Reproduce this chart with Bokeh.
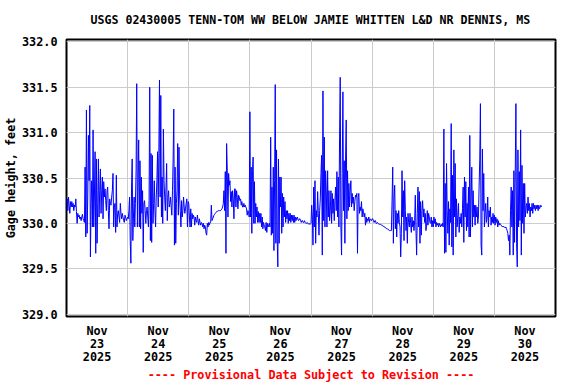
import numpy as np
import pandas as pd
from bokeh.plotting import figure
from bokeh.models import Range1d, FixedTicker, DatetimeTickFormatter, PrintfTickFormatter
from bokeh.embed import file_html
from bokeh.resources import INLINE

title_text = "USGS 02430005 TENN-TOM WW BELOW JAMIE WHITTEN L&D NR DENNIS, MS"
y_label = "Gage height, feet"
footer = "---- Provisional Data Subject to Revision ----"

day_starts = ["2025-11-23", "2025-11-24", "2025-11-25", "2025-11-26",
              "2025-11-27", "2025-11-28", "2025-11-29", "2025-11-30"]
range_end = "2025-12-01"
last_reading = "2025-11-30 18:30"
y_ticks = [329.0, 329.5, 330.0, 330.5, 331.0, 331.5, 332.0]

# gage height readings (feet), one list per day
nov23 = [330.22, 330.27, 330.14, 330.29, 330.20, 330.11, 330.24, 330.18, 330.24, 330.18,
         330.22, 330.14, 330.20, 330.18, 330.27, 330.13, 330.00, 330.11, 330.07, 330.09,
         330.05, 330.07, 330.03, 330.07, 330.10, 330.05, 330.03, 330.01, 330.62, 329.85,
         331.25, 329.89, 330.29, 330.97, 330.47, 331.30, 329.63, 330.22, 330.47, 329.96,
         331.03, 329.96, 330.29, 330.79, 329.67, 330.71, 329.78, 330.22, 330.71, 330.07,
         330.36, 330.60, 330.11, 330.36, 330.51, 330.05, 330.46, 330.29, 330.38, 330.25,
         330.14, 330.36, 330.40, 330.14, 329.94, 330.27, 330.22, 330.20, 330.29, 330.36,
         330.55, 329.96, 330.18, 330.22, 329.90, 330.53, 329.96, 330.11, 330.14, 330.07,
         330.01, 330.22, 330.11, 330.05, 330.11, 330.07, 330.03, 330.01, 330.09, 330.07,
         330.03, 330.05]
nov24 = [330.07, 330.05, 330.14, 330.29, 329.81, 329.56, 330.38, 330.71, 329.81, 330.07,
         330.29, 329.96, 330.22, 330.58, 331.54, 329.96, 330.47, 330.92, 329.96, 330.69,
         329.94, 330.51, 330.11, 330.36, 329.68, 330.22, 330.25, 330.14, 330.00, 330.14,
         330.18, 330.07, 329.96, 330.25, 331.50, 329.81, 330.77, 329.79, 330.75, 330.00,
         330.22, 330.47, 330.14, 329.96, 330.29, 330.47, 330.79, 330.18, 330.77, 331.58,
         330.29, 331.41, 330.07, 330.51, 330.00, 331.04, 330.47, 330.29, 330.14, 330.40,
         330.66, 330.03, 330.29, 330.36, 330.18, 330.22, 330.29, 330.18, 330.09, 330.36,
         330.71, 331.26, 329.76, 330.62, 329.78, 330.22, 330.36, 330.88, 330.09, 330.84,
         330.29, 330.14, 329.96, 330.25, 330.07, 330.14, 330.29, 330.18, 330.11, 330.16,
         330.22, 330.27, 329.96, 330.24]
nov25 = [330.22, 330.07, 329.96, 330.16, 329.96, 330.11, 330.05, 330.09, 330.07, 329.98,
         330.07, 330.03, 330.01, 330.09, 330.03, 329.98, 330.05, 330.01, 329.98, 330.01,
         330.00, 329.96, 330.00, 329.94, 329.98, 329.96, 329.89, 329.87, 330.00, 329.96,
         330.01, 329.98, 330.01, 330.01, 330.20, 330.03, 330.05, 330.07, 330.09, 330.10,
         330.11, 330.12, 330.13, 330.13, 330.14, 330.14, 330.14, 330.14, 330.14, 330.15,
         330.16, 330.18, 330.22, 330.36, 330.14, 330.57, 329.67, 330.88, 330.58, 330.07,
         330.55, 330.42, 330.47, 330.24, 330.35, 330.18, 330.36, 330.27, 330.05, 330.38,
         330.38, 330.18, 330.36, 330.29, 330.16, 330.31, 330.29, 330.25, 330.27, 330.20,
         330.24, 330.18, 330.18, 330.22, 330.18, 330.20, 330.18, 330.16, 330.09, 330.14,
         330.13, 330.07]
nov26 = [331.23, 330.07, 330.62, 329.89, 330.58, 330.73, 330.00, 330.46, 330.00, 330.22,
         330.07, 330.18, 330.01, 330.13, 330.01, 330.11, 330.01, 330.11, 329.96, 330.07,
         329.94, 330.01, 329.98, 329.96, 329.92, 330.01, 329.90, 330.00, 329.96, 329.98,
         330.00, 329.96, 330.95, 329.87, 330.40, 329.89, 330.62, 329.70, 330.47, 331.53,
         329.78, 330.81, 329.83, 329.52, 330.71, 329.78, 330.51, 330.18, 330.51, 329.89,
         330.33, 329.96, 330.29, 330.07, 330.24, 330.01, 330.14, 330.05, 330.14, 330.00,
         330.11, 330.03, 330.11, 330.01, 330.09, 330.03, 330.09, 330.01, 330.09, 330.01,
         330.07, 330.03, 330.06, 330.07, 330.04, 330.03, 330.05, 330.05, 330.03, 330.01,
         330.03, 330.03, 330.01, 330.01, 330.03, 330.01, 330.00, 330.00, 330.01, 330.00,
         329.99, 330.00, 329.99, 329.99]
nov27 = [330.00, 330.20, 330.07, 329.76, 330.40, 329.96, 330.47, 329.78, 330.14, 330.07,
         330.35, 330.11, 329.87, 330.14, 330.27, 330.55, 330.75, 329.65, 331.46, 330.03,
         330.95, 329.96, 330.58, 330.36, 329.96, 330.58, 330.07, 330.36, 330.03, 330.14,
         330.36, 330.00, 330.33, 330.11, 330.27, 330.03, 330.25, 330.40, 330.14, 330.57,
         330.07, 330.51, 329.96, 330.95, 331.61, 329.96, 329.65, 330.55, 331.45, 330.14,
         330.69, 329.78, 330.71, 331.14, 330.05, 330.58, 330.14, 330.44, 330.18, 330.36,
         330.47, 330.18, 330.33, 330.22, 330.29, 330.14, 330.24, 330.31, 330.29, 330.33,
         329.67, 330.29, 330.33, 330.11, 330.18, 330.14, 330.24, 330.07, 330.16, 330.13,
         330.07, 330.11, 329.98, 330.07, 330.01, 330.05, 330.03, 330.07, 330.01, 330.05,
         330.04, 330.03]
nov28 = [330.05, 330.05, 330.03, 330.01, 330.03, 330.03, 330.00, 330.00, 330.01, 330.00,
         329.99, 329.99, 329.99, 329.99, 329.98, 329.98, 329.97, 329.97, 329.96, 329.96,
         329.95, 329.95, 329.94, 329.94, 329.93, 329.93, 329.92, 329.92, 329.92, 329.92,
         330.25, 330.62, 329.78, 330.29, 330.42, 329.94, 330.14, 329.85, 330.11, 330.00,
         330.14, 330.01, 329.96, 329.63, 329.89, 330.58, 330.07, 330.36, 329.81, 330.47,
         330.14, 329.92, 330.07, 329.78, 330.11, 330.01, 329.96, 330.11, 330.00, 329.90,
         330.07, 329.96, 330.03, 329.92, 330.03, 330.31, 329.92, 329.65, 330.11, 330.40,
         329.96, 330.35, 329.78, 330.24, 329.87, 330.14, 330.25, 330.07, 330.16, 330.01,
         330.11, 329.92, 329.98, 330.14, 329.98, 330.11, 330.07, 330.01, 330.00, 330.07,
         329.96, 330.03]
nov29 = [329.96, 330.07, 330.00, 330.05, 329.96, 330.01, 329.98, 330.00, 329.96, 330.00,
         329.98, 329.96, 329.99, 329.97, 330.00, 329.96, 331.04, 329.67, 330.44, 329.68,
         330.66, 330.14, 329.89, 330.24, 329.76, 330.16, 330.01, 331.10, 329.74, 330.53,
         329.65, 330.81, 330.07, 330.66, 329.85, 330.27, 329.96, 330.09, 330.22, 329.90,
         330.07, 330.00, 330.11, 329.96, 330.16, 330.40, 329.79, 330.51, 330.07, 330.46,
         329.92, 330.22, 329.96, 330.40, 329.85, 330.97, 329.85, 330.29, 330.62, 329.96,
         330.36, 330.07, 330.20, 329.98, 330.20, 330.07, 330.18, 330.00, 330.07, 330.40,
         330.71, 331.32, 329.76, 329.65, 330.82, 330.14, 330.55, 329.96, 330.11, 330.22,
         330.01, 330.07, 330.29, 329.96, 330.14, 330.07, 330.18, 329.98, 330.07, 330.01,
         330.11, 330.00]
nov30 = [330.09, 329.98, 330.07, 330.01, 330.05, 329.96, 330.03, 329.98, 330.00, 329.99,
         329.98, 329.97, 329.96, 329.97, 329.96, 329.96, 329.95, 329.96, 329.94, 329.92,
         329.89, 329.81, 329.87, 329.65, 330.14, 330.40, 329.96, 330.36, 329.65, 330.58,
         329.79, 330.57, 331.32, 329.78, 329.52, 330.81, 329.96, 330.57, 330.03, 331.03,
         329.65, 330.64, 330.00, 330.44, 329.89, 330.44, 330.07, 330.18, 330.22, 330.11,
         330.29, 330.14, 330.22, 330.07, 330.18, 330.14, 330.22, 330.11, 330.22, 330.16,
         330.20, 330.14, 330.20, 330.16, 330.20, 330.14, 330.20, 330.16, 330.18, 330.20,
         330.18]

daily_readings = [nov23, nov24, nov25, nov26, nov27, nov28, nov29, nov30]

times = []
heights = []
for i, (d, vals) in enumerate(zip(day_starts, daily_readings)):
    start = pd.Timestamp(d)
    if i < len(daily_readings) - 1:
        t = pd.date_range(start, start + pd.Timedelta(days=1), periods=len(vals) + 1)[:-1]
    else:
        t = pd.date_range(start, pd.Timestamp(last_reading), periods=len(vals))
    times.extend(list(t))
    heights.extend(vals)

def ms(ts):
    return ts.value // 10**6

noon_ticks = [ms(pd.Timestamp(d) + pd.Timedelta(hours=12)) for d in day_starts]
midnight_ticks = [ms(pd.Timestamp(d)) for d in day_starts[1:]]

FONT = "DejaVu Sans Mono"
FS = "11.8px"

p = figure(width=576, height=384, x_axis_type="datetime",
           output_backend="svg", toolbar_location=None,
           x_range=Range1d(pd.Timestamp(day_starts[0]), pd.Timestamp(range_end)),
           y_range=Range1d(328.973, 332.027),
           min_border_left=65, min_border_right=21, min_border_top=39, min_border_bottom=68)

p.line(times, heights, line_color="#0000ff", line_width=1)

p.title.text = title_text
p.title.align = "left"
p.title.offset = 24
p.title.text_font = FONT
p.title.text_font_size = "11.6px"
p.title.text_font_style = "bold"
p.title.text_color = "black"
p.title.text_line_height = 1.0
p.title.vertical_align = "top"
p.title.standoff = 22

p.outline_line_color = "black"
p.outline_line_width = 2
p.background_fill_color = "white"
p.border_fill_color = "white"

# y axis
p.yaxis.ticker = FixedTicker(ticks=y_ticks)
p.yaxis.formatter = PrintfTickFormatter(format="%.1f")
p.yaxis.axis_label = y_label
p.yaxis.axis_label_text_font = FONT
p.yaxis.axis_label_text_font_size = FS
p.yaxis.axis_label_text_font_style = "bold"
p.yaxis.axis_label_text_color = "black"
p.yaxis.axis_label_standoff = 1
p.yaxis.major_label_text_font = FONT
p.yaxis.major_label_text_font_size = FS
p.yaxis.major_label_text_font_style = "bold"
p.yaxis.major_label_text_color = "black"
p.yaxis.major_label_standoff = 9

# x axis
p.xaxis.ticker = FixedTicker(ticks=noon_ticks)
fmt = "%b\n%d\n%Y"
p.xaxis.formatter = DatetimeTickFormatter(milliseconds=fmt, seconds=fmt, minsec=fmt, minutes=fmt,
                                          hourmin=fmt, hours=fmt, days=fmt, months=fmt, years=fmt)
p.xaxis.major_label_text_font = FONT
p.xaxis.major_label_text_font_size = FS
p.xaxis.major_label_text_font_style = "bold"
p.xaxis.major_label_text_color = "black"
p.xaxis.major_label_text_line_height = 0.93
p.xaxis.major_label_standoff = 7
p.xaxis.axis_label = footer
p.xaxis.axis_label_text_font = FONT
p.xaxis.axis_label_text_font_size = FS
p.xaxis.axis_label_text_font_style = "bold"
p.xaxis.axis_label_text_color = "#ff0000"
p.xaxis.axis_label_standoff = 1

for ax in (p.xaxis, p.yaxis):
    ax.axis_line_color = None
    ax.major_tick_line_color = None
    ax.minor_tick_line_color = None
    ax.major_tick_out = 0
    ax.major_tick_in = 0
    ax.minor_tick_out = 0
    ax.minor_tick_in = 0

p.xgrid.ticker = FixedTicker(ticks=midnight_ticks)
p.xgrid.grid_line_color = "#cccccc"
p.ygrid.grid_line_color = "#cccccc"
p.xgrid.grid_line_width = 1
p.ygrid.grid_line_width = 1

open("out.html", "w").write(file_html(p, INLINE))
